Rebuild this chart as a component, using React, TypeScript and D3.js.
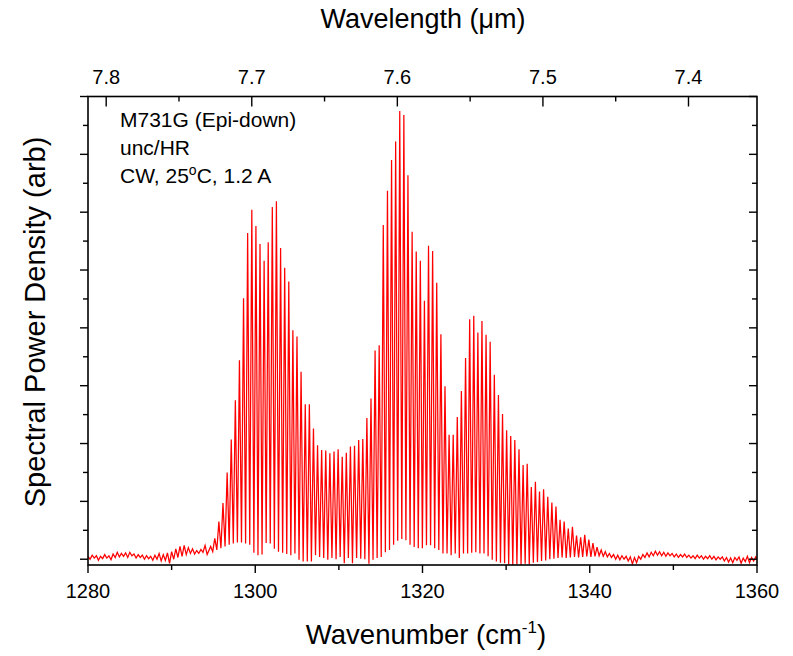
import React from 'react';
import * as d3 from 'd3';

// Fabry-Perot mode positions (cm^-1), peak heights and the trough after each mode (arb)
const modeWavenumber = [
  1294.67, 1295.16, 1295.65, 1296.14, 1296.64, 1297.13, 1297.62, 1298.11, 1298.60, 1299.09,
  1299.59, 1300.08, 1300.57, 1301.06, 1301.55, 1302.04, 1302.53, 1303.03, 1303.52, 1304.01,
  1304.50, 1304.99, 1305.48, 1305.98, 1306.47, 1306.96, 1307.45, 1307.94, 1308.43, 1308.92,
  1309.42, 1309.91, 1310.40, 1310.89, 1311.38, 1311.87, 1312.37, 1312.86, 1313.35, 1313.84,
  1314.33, 1314.82, 1315.31, 1315.81, 1316.30, 1316.79, 1317.28, 1317.77, 1318.26, 1318.76,
  1319.25, 1319.74, 1320.23, 1320.72, 1321.21, 1321.70, 1322.20, 1322.69, 1323.18, 1323.67,
  1324.16, 1324.65, 1325.15, 1325.64, 1326.13, 1326.62, 1327.11, 1327.60, 1328.09, 1328.59,
  1329.08, 1329.57, 1330.06, 1330.55, 1331.04, 1331.54, 1332.03, 1332.52, 1333.01, 1333.50,
  1333.99, 1334.48, 1334.98, 1335.47, 1335.96, 1336.45, 1336.94, 1337.43, 1337.93, 1338.42,
  1338.91, 1339.40, 1339.89, 1340.38, 1340.87, 1341.37, 1341.86, 1342.35,
];

const peakValue = [
  0.22, 0.36, 0.65, 0.97, 1.50, 2.07, 2.75, 3.44, 4.51, 5.64,
  6.04, 5.76, 5.45, 5.16, 5.48, 6.09, 6.19, 5.38, 5.04, 4.80,
  3.96, 3.85, 3.24, 2.68, 2.68, 2.26, 1.97, 1.89, 1.88, 1.83,
  1.86, 1.90, 1.77, 1.84, 1.95, 1.96, 2.06, 2.08, 2.44, 2.78,
  3.61, 3.70, 5.78, 6.37, 6.90, 7.22, 7.75, 7.68, 6.64, 5.66,
  5.32, 5.16, 4.47, 5.42, 5.33, 4.78, 3.89, 2.99, 2.15, 2.15,
  2.46, 2.91, 3.48, 4.15, 4.21, 3.92, 4.12, 3.88, 3.76, 3.19,
  2.84, 2.51, 2.23, 2.13, 2.06, 1.90, 1.63, 1.65, 1.25, 1.34,
  1.17, 1.21, 1.08, 0.98, 0.91, 0.68, 0.65, 0.53, 0.56, 0.41,
  0.38, 0.42, 0.34, 0.28, 0.21, 0.16, 0.13, 0.10,
];

const troughValue = [
  0.13, 0.16, 0.19, 0.22, 0.25, 0.27, 0.29, 0.29, 0.27, 0.25,
  0.11, 0.07, 0.08, 0.28, 0.27, 0.18, 0.13, 0.11, 0.09, 0.07,
  0.10, -0.01, -0.04, -0.04, -0.04, 0.07, 0.04, 0.02, -0.01, 0.02,
  0.00, 0.04, -0.07, 0.02, -0.07, 0.02, 0.01, 0.00, -0.08, -0.01,
  0.02, 0.04, 0.12, 0.16, 0.25, 0.32, 0.35, 0.33, 0.25, 0.21,
  0.19, 0.19, 0.24, 0.24, 0.19, 0.16, 0.10, 0.10, 0.07, 0.10,
  0.02, 0.10, 0.10, 0.11, 0.12, 0.10, 0.10, 0.05, -0.01, -0.04,
  -0.06, -0.07, -0.09, -0.10, -0.09, -0.10, -0.08, -0.09, -0.06, -0.05,
  -0.03, -0.02, 0.00, 0.01, 0.02, 0.03, 0.02, 0.03, 0.04, 0.03,
  0.04, 0.05, 0.04, 0.05, 0.06, 0.05, 0.04, 0.03,
];

// baseline noise outside the lasing band: [wavenumber, value]
const noiseLeft: [number, number][] = [
  [1280.00, 0.05], [1280.25, 0.00], [1280.50, 0.07], [1280.75, 0.02], [1281.00, 0.06],
  [1281.25, -0.02], [1281.50, 0.05], [1281.75, 0.01], [1282.00, 0.08], [1282.25, 0.02],
  [1282.50, 0.06], [1282.75, -0.01], [1283.00, 0.09], [1283.25, 0.03], [1283.50, 0.12],
  [1283.75, 0.04], [1284.00, 0.10], [1284.25, 0.05], [1284.50, 0.11], [1284.75, 0.03],
  [1285.00, 0.12], [1285.25, 0.06], [1285.50, 0.09], [1285.75, 0.02], [1286.00, 0.08],
  [1286.25, 0.03], [1286.50, 0.07], [1286.75, 0.00], [1287.00, 0.06], [1287.25, 0.01],
  [1287.50, 0.05], [1287.75, -0.02], [1288.00, 0.07], [1288.25, 0.00], [1288.50, 0.10],
  [1288.75, -0.03], [1289.00, 0.08], [1289.25, -0.02], [1289.50, 0.11], [1289.75, -0.07],
  [1290.00, 0.13], [1290.25, 0.00], [1290.50, 0.18], [1290.75, 0.03], [1291.00, 0.22],
  [1291.25, 0.05], [1291.50, 0.24], [1291.75, 0.08], [1292.00, 0.20], [1292.25, 0.10],
  [1292.50, 0.18], [1292.75, 0.09], [1293.00, 0.15], [1293.25, 0.10], [1293.50, 0.17],
  [1293.75, 0.12], [1294.00, 0.24], [1294.25, 0.08],
];

const noiseRight: [number, number][] = [
  [1342.85, 0.08], [1343.10, 0.00], [1343.35, 0.07], [1343.60, -0.01], [1343.85, 0.06],
  [1344.10, 0.00], [1344.35, 0.05], [1344.60, -0.03], [1344.85, 0.04], [1345.10, -0.08],
  [1345.35, 0.03], [1345.60, -0.06], [1345.85, 0.05], [1346.10, 0.00], [1346.35, 0.08],
  [1346.60, 0.03], [1346.85, 0.11], [1347.10, 0.04], [1347.35, 0.12], [1347.60, 0.06],
  [1347.85, 0.14], [1348.10, 0.07], [1348.35, 0.13], [1348.60, 0.06], [1348.85, 0.12],
  [1349.10, 0.05], [1349.35, 0.11], [1349.60, 0.06], [1349.85, 0.10], [1350.10, 0.04],
  [1350.35, 0.09], [1350.60, 0.03], [1350.85, 0.08], [1351.10, 0.04], [1351.35, 0.09],
  [1351.60, 0.03], [1351.85, 0.07], [1352.10, 0.02], [1352.35, 0.06], [1352.60, 0.01],
  [1352.85, 0.07], [1353.10, 0.02], [1353.35, 0.06], [1353.60, 0.00], [1353.85, 0.05],
  [1354.10, 0.01], [1354.35, 0.06], [1354.60, 0.00], [1354.85, 0.05], [1355.10, -0.01],
  [1355.35, 0.04], [1355.60, 0.00], [1355.85, 0.04], [1356.10, -0.03], [1356.35, 0.03],
  [1356.60, -0.05], [1356.85, 0.02], [1357.10, -0.06], [1357.35, 0.03], [1357.60, -0.02],
  [1357.85, 0.04], [1358.10, -0.07], [1358.35, 0.02], [1358.60, -0.04], [1358.85, 0.05],
  [1359.10, -0.06], [1359.35, 0.03], [1359.60, -0.03], [1359.85, 0.04], [1360.00, 0.00],
];

const xTicksMajor = [1280, 1300, 1320, 1340, 1360];
const xTicksMinor = [1290, 1310, 1330, 1350];
const topTicksMajor = [7.8, 7.7, 7.6, 7.5, 7.4];
const topTicksMinor = [7.75, 7.65, 7.55, 7.45];
const yTicksMajor = [0, 1, 2, 3, 4, 5, 6, 7, 8];
const yTicksMinor = [0.5, 1.5, 2.5, 3.5, 4.5, 5.5, 6.5, 7.5];

const W = 793;
const H = 656;
const L = 88, R = 757, T = 96.5, B = 565;
const FONT = '"Liberation Sans", Arial, Helvetica, sans-serif';

export default function App() {
  const x = d3.scaleLinear().domain([1280, 1360]).range([L, R]);
  const xTop = d3.scaleLinear().domain([1e4 / 1280, 1e4 / 1360]).range([L, R]);
  const y = d3.scaleLinear().domain([-0.1, 8]).range([B, T]);

  const pts: [number, number][] = [];
  noiseLeft.forEach((p) => pts.push(p));
  modeWavenumber.forEach((wn, i) => {
    pts.push([wn, peakValue[i]]);
    const next = i + 1 < modeWavenumber.length ? modeWavenumber[i + 1] : wn + (wn - modeWavenumber[i - 1]);
    pts.push([(wn + next) / 2, troughValue[i]]);
  });
  noiseRight.forEach((p) => pts.push(p));

  const line = d3.line<[number, number]>().x((d) => x(d[0])).y((d) => y(d[1]));

  const majorLen = 8;
  const minorLen = 5;

  return (
    <svg width={W} height={H} style={{ position: 'absolute', left: 0, top: 0, background: '#fff' }} fontFamily={FONT}>
      <rect x={0} y={0} width={W} height={H} fill="#fff" />
      <defs>
        <clipPath id="plot">
          <rect x={L} y={T} width={R - L} height={B - T} />
        </clipPath>
      </defs>
      <path d={line(pts) || ''} fill="none" stroke="#ff0000" strokeWidth={1.25} clipPath="url(#plot)" strokeLinejoin="miter" />

      {/* frame */}
      <rect x={L} y={T} width={R - L} height={B - T} fill="none" stroke="#000" strokeWidth={1.6} />

      {/* bottom axis ticks (outward) */}
      {xTicksMajor.map((t) => (
        <line key={'bx' + t} x1={x(t)} x2={x(t)} y1={B} y2={B + majorLen} stroke="#000" strokeWidth={1.4} />
      ))}
      {xTicksMinor.map((t) => (
        <line key={'bxm' + t} x1={x(t)} x2={x(t)} y1={B} y2={B + minorLen} stroke="#000" strokeWidth={1.4} />
      ))}
      {xTicksMajor.map((t) => (
        <text key={'bxl' + t} x={x(t)} y={598} fontSize={20} textAnchor="middle">{t}</text>
      ))}

      {/* top axis ticks (inward) */}
      {topTicksMajor.map((t) => (
        <line key={'tx' + t} x1={xTop(t)} x2={xTop(t)} y1={T} y2={T + majorLen + 2} stroke="#000" strokeWidth={1.4} />
      ))}
      {topTicksMinor.map((t) => (
        <line key={'txm' + t} x1={xTop(t)} x2={xTop(t)} y1={T} y2={T + minorLen} stroke="#000" strokeWidth={1.4} />
      ))}
      {topTicksMajor.map((t) => (
        <text key={'txl' + t} x={xTop(t)} y={84} fontSize={20} textAnchor="middle">{t.toFixed(1)}</text>
      ))}

      {/* left axis ticks (outward) */}
      {yTicksMajor.map((t) => (
        <line key={'ly' + t} x1={L - majorLen} x2={L} y1={y(t)} y2={y(t)} stroke="#000" strokeWidth={1.4} />
      ))}
      {yTicksMinor.map((t) => (
        <line key={'lym' + t} x1={L - minorLen} x2={L} y1={y(t)} y2={y(t)} stroke="#000" strokeWidth={1.4} />
      ))}
      {/* right axis ticks (inward) */}
      {yTicksMajor.map((t) => (
        <line key={'ry' + t} x1={R - majorLen} x2={R} y1={y(t)} y2={y(t)} stroke="#000" strokeWidth={1.4} />
      ))}
      {yTicksMinor.map((t) => (
        <line key={'rym' + t} x1={R - minorLen} x2={R} y1={y(t)} y2={y(t)} stroke="#000" strokeWidth={1.4} />
      ))}

      {/* titles */}
      <text x={423} y={28} fontSize={27} textAnchor="middle">
        Wavelength (μm)
      </text>
      <text x={426} y={644} fontSize={27.5} textAnchor="middle">
        Wavenumber (cm<tspan fontSize={17} dy={-11}>-1</tspan><tspan dy={11}>)</tspan>
      </text>
      <text transform={`translate(45, 322) rotate(-90)`} fontSize={29} textAnchor="middle">
        Spectral Power Density (arb)
      </text>

      {/* annotation */}
      <g fontSize={21}>
        <text x={120} y={127}>M731G (Epi-down)</text>
        <text x={120} y={155}>unc/HR</text>
        <text x={120} y={183}>
          CW, 25<tspan fontSize={14} dy={-8}>o</tspan><tspan dy={8}>C, 1.2 A</tspan>
        </text>
      </g>
    </svg>
  );
}
